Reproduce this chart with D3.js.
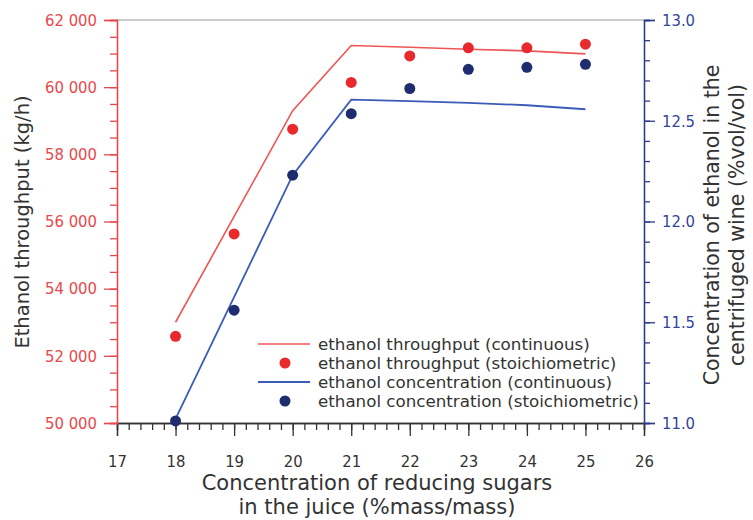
<!DOCTYPE html>
<html>
<head>
<meta charset="utf-8">
<script src="https://cdn.jsdelivr.net/npm/d3@7"></script>
<style>
  body { margin: 0; background: #fff; }
  svg { display: block; }
  text { font-family: "DejaVu Sans", sans-serif; }
  .tick text { font-family: "DejaVu Sans Condensed", "DejaVu Sans", sans-serif; font-stretch: condensed; }
</style>
</head>
<body>
<svg id="chart" width="753" height="520"></svg>
<script>
// Reducing sugar concentration in the juice (%mass/mass)
const sugarStoich = [18, 19, 20, 21, 22, 23, 24, 25];
const sugarContinuous = [18, 20, 21, 22, 23, 24, 25];

// Ethanol throughput (kg/h)
const throughputContinuous = [53000, 59300, 61240, 61190, 61130, 61080, 60990];
const throughputStoich = [52580, 55630, 58750, 60140, 60930, 61170, 61170, 61280];

// Ethanol concentration in the centrifuged wine (%vol/vol)
const concContinuous = [11.02, 12.23, 12.605, 12.597, 12.589, 12.577, 12.557];
const concStoich = [11.01, 11.56, 12.23, 12.535, 12.66, 12.755, 12.765, 12.78];

// Axis ticks
const xTicks = [17, 18, 19, 20, 21, 22, 23, 24, 25, 26];
const leftTicks = [50000, 52000, 54000, 56000, 58000, 60000, 62000];
const rightTicks = [11.0, 11.5, 12.0, 12.5, 13.0];

const legendLabels = [
  "ethanol throughput (continuous)",
  "ethanol throughput (stoichiometric)",
  "ethanol concentration (continuous)",
  "ethanol concentration (stoichiometric)"
];

const RED_LINE = "#f05555", RED_DOT = "#e82a2e";
const BLUE_LINE = "#3b5bb8", BLUE_DOT = "#1f2d6e";
const LEFT_AXIS = "#e8474b", RIGHT_AXIS = "#2d3a8a";
const TEXT = "#333333";

const svg = d3.select("#chart");
const plot = { left: 117, right: 644, top: 20, bottom: 423 };

const x = d3.scaleLinear([17, 26], [plot.left, plot.right]);
const yL = d3.scaleLinear([50000, 62000], [plot.bottom, plot.top]);
const yR = d3.scaleLinear([11, 13], [plot.bottom, plot.top]);

const spaced = d3.formatLocale({ decimal: ".", thousands: "\u00a0", grouping: [3], currency: ["", ""] }).format(",");

// top border
svg.append("line")
  .attr("x1", plot.left).attr("x2", plot.right)
  .attr("y1", plot.top).attr("y2", plot.top)
  .attr("stroke", "#9a9a9a").attr("stroke-width", 1.2);

// x axis: minor then major ticks
const gxMinor = svg.append("g").attr("transform", `translate(0,${plot.bottom})`)
  .call(d3.axisBottom(x).tickValues(d3.range(170, 261, 2).map(d => d / 10)).tickSize(7).tickFormat(""));
const gx = svg.append("g").attr("transform", `translate(0,${plot.bottom})`)
  .call(d3.axisBottom(x).tickValues(xTicks).tickSize(13).tickPadding(19).tickFormat(d3.format("d")));
[gxMinor, gx].forEach(g => {
  g.selectAll("path, line").attr("stroke", "#333").attr("stroke-width", 1.3);
});
gx.selectAll("text").attr("fill", TEXT).style("font-size", "16.5px");

// left axis
const gyMinor = svg.append("g").attr("transform", `translate(${plot.left},0)`)
  .call(d3.axisLeft(yL).tickValues(d3.range(50000, 62001, 500)).tickSize(7).tickFormat(""));
const gy = svg.append("g").attr("transform", `translate(${plot.left},0)`)
  .call(d3.axisLeft(yL).tickValues(leftTicks).tickSize(13).tickPadding(7).tickFormat(spaced));
[gyMinor, gy].forEach(g => {
  g.selectAll("path, line").attr("stroke", LEFT_AXIS).attr("stroke-width", 1.3);
});
gy.selectAll("text").attr("fill", LEFT_AXIS).style("font-size", "16.5px");

// right axis
const gyrMinor = svg.append("g").attr("transform", `translate(${plot.right},0)`)
  .call(d3.axisRight(yR).tickValues(d3.range(110, 131, 1).map(d => d / 10)).tickSize(6).tickFormat(""));
const gyr = svg.append("g").attr("transform", `translate(${plot.right},0)`)
  .call(d3.axisRight(yR).tickValues(rightTicks).tickSize(11).tickPadding(7).tickFormat(d3.format(".1f")));
[gyrMinor, gyr].forEach(g => {
  g.selectAll("path, line").attr("stroke", RIGHT_AXIS).attr("stroke-width", 1.3);
});
gyr.selectAll("text").attr("fill", "#34449a").style("font-size", "16.5px");

// axis titles
svg.append("text")
  .attr("transform", "translate(22,222) rotate(-90)")
  .attr("text-anchor", "middle").attr("dominant-baseline", "central")
  .attr("fill", TEXT).style("font-size", "19.5px")
  .text("Ethanol throughput (kg/h)");

const rTitle = svg.append("text")
  .attr("transform", "translate(712,225) rotate(-90)")
  .attr("text-anchor", "middle").attr("fill", TEXT).style("font-size", "20.5px");
rTitle.append("tspan").attr("x", 0).attr("y", 0).attr("dominant-baseline", "central")
  .text("Concentration of ethanol in the");
rTitle.append("tspan").attr("x", 0).attr("y", 25).attr("dominant-baseline", "central")
  .text("centrifuged wine (%vol/vol)");

const xTitle = svg.append("text")
  .attr("text-anchor", "middle").attr("fill", TEXT).style("font-size", "21px");
xTitle.append("tspan").attr("x", 377).attr("y", 483).attr("dominant-baseline", "central")
  .text("Concentration of reducing sugars");
xTitle.append("tspan").attr("x", 377).attr("y", 507).attr("dominant-baseline", "central")
  .text("in the juice (%mass/mass)");

// continuous model lines
const lineL = d3.line().x((d, i) => x(sugarContinuous[i])).y(d => yL(d));
const lineR = d3.line().x((d, i) => x(sugarContinuous[i])).y(d => yR(d));

svg.append("path").datum(throughputContinuous)
  .attr("d", lineL).attr("fill", "none")
  .attr("stroke", RED_LINE).attr("stroke-width", 1.6);
svg.append("path").datum(concContinuous)
  .attr("d", lineR).attr("fill", "none")
  .attr("stroke", BLUE_LINE).attr("stroke-width", 1.8);

// stoichiometric points
svg.append("g").selectAll("circle").data(throughputStoich).join("circle")
  .attr("cx", (d, i) => x(sugarStoich[i])).attr("cy", d => yL(d))
  .attr("r", 5.5).attr("fill", RED_DOT);
svg.append("g").selectAll("circle").data(concStoich).join("circle")
  .attr("cx", (d, i) => x(sugarStoich[i])).attr("cy", d => yR(d))
  .attr("r", 5.5).attr("fill", BLUE_DOT);

// legend
const legendRows = [344, 363, 382, 401];
const legend = svg.append("g");
legendLabels.forEach((label, i) => {
  const y = legendRows[i];
  if (i % 2 === 0) {
    legend.append("line").attr("x1", 258).attr("x2", 310).attr("y1", y).attr("y2", y)
      .attr("stroke", i === 0 ? RED_LINE : BLUE_LINE).attr("stroke-width", i === 0 ? 1.6 : 1.8);
  } else {
    legend.append("circle").attr("cx", 285).attr("cy", y).attr("r", 5.5)
      .attr("fill", i === 1 ? RED_DOT : BLUE_DOT);
  }
  legend.append("text").attr("x", 318).attr("y", y).attr("dominant-baseline", "central")
    .attr("fill", TEXT).style("font-size", "16.7px").text(label);
});
</script>
</body>
</html>
